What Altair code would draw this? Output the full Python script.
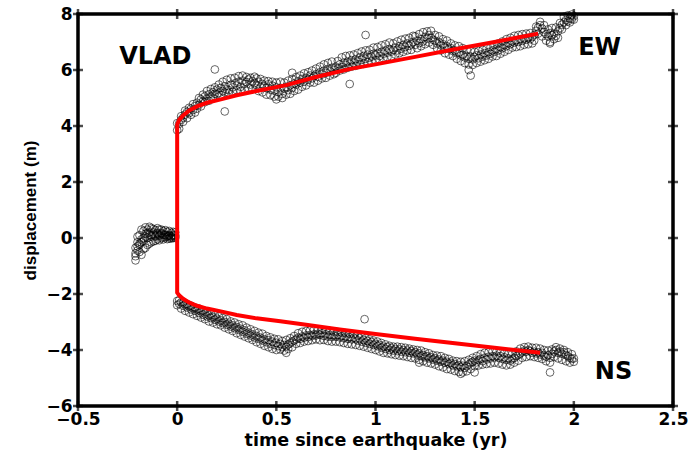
import altair as alt
import pandas as pd

# ---------------- data ----------------
pre_t = [-0.21, -0.20, -0.19, -0.18, -0.17, -0.16, -0.15, -0.14, -0.13, -0.12, -0.11,
         -0.10, -0.09, -0.08, -0.07, -0.06, -0.05, -0.04, -0.03, -0.02, -0.01]
pre_ew = [-0.55, -0.30, 0.10, -0.15, 0.25, 0.05, 0.30, 0.12, 0.35, 0.20, 0.28,
          0.15, 0.30, 0.18, 0.25, 0.10, 0.22, 0.08, 0.18, 0.12, 0.20]
pre_ns = [-0.80, -0.45, -0.25, -0.60, -0.10, -0.35, 0.00, -0.20, 0.05, -0.12, 0.08,
          -0.05, 0.10, 0.00, 0.12, 0.02, 0.08, -0.02, 0.06, 0.00, 0.05]
pre_ew_b = [-0.35, 0.05, -0.20, 0.30, 0.00, 0.38, 0.18, 0.40, 0.10, 0.32, 0.05,
            0.35, 0.08, 0.30, 0.02, 0.28, 0.05, 0.25, 0.02, 0.22, 0.10]
pre_ns_b = [-0.65, -0.15, -0.50, -0.05, -0.40, 0.15, -0.25, 0.20, -0.15, 0.12, -0.10,
            0.18, -0.08, 0.15, -0.05, 0.12, -0.04, 0.10, -0.02, 0.08, 0.00]

post_t = [
    0.00, 0.01, 0.02, 0.03, 0.04, 0.05, 0.06, 0.07, 0.08, 0.09,
    0.10, 0.11, 0.12, 0.13, 0.14, 0.15, 0.16, 0.17, 0.18, 0.19,
    0.20, 0.21, 0.22, 0.23, 0.24, 0.25, 0.26, 0.27, 0.28, 0.29,
    0.30, 0.31, 0.32, 0.33, 0.34, 0.35, 0.36, 0.37, 0.38, 0.39,
    0.40, 0.41, 0.42, 0.43, 0.44, 0.45, 0.46, 0.47, 0.48, 0.49,
    0.50, 0.51, 0.52, 0.53, 0.54, 0.55, 0.56, 0.57, 0.58, 0.59,
    0.60, 0.61, 0.62, 0.63, 0.64, 0.65, 0.66, 0.67, 0.68, 0.69,
    0.70, 0.71, 0.72, 0.73, 0.74, 0.75, 0.76, 0.77, 0.78, 0.79,
    0.80, 0.81, 0.82, 0.83, 0.84, 0.85, 0.86, 0.87, 0.88, 0.89,
    0.90, 0.91, 0.92, 0.93, 0.94, 0.95, 0.96, 0.97, 0.98, 0.99,
    1.00, 1.01, 1.02, 1.03, 1.04, 1.05, 1.06, 1.07, 1.08, 1.09,
    1.10, 1.11, 1.12, 1.13, 1.14, 1.15, 1.16, 1.17, 1.18, 1.19,
    1.20, 1.21, 1.22, 1.23, 1.24, 1.25, 1.26, 1.27, 1.28, 1.29,
    1.30, 1.31, 1.32, 1.33, 1.34, 1.35, 1.36, 1.37, 1.38, 1.39,
    1.40, 1.41, 1.42, 1.43, 1.44, 1.45, 1.46, 1.47, 1.48, 1.49,
    1.50, 1.51, 1.52, 1.53, 1.54, 1.55, 1.56, 1.57, 1.58, 1.59,
    1.60, 1.61, 1.62, 1.63, 1.64, 1.65, 1.66, 1.67, 1.68, 1.69,
    1.70, 1.71, 1.72, 1.73, 1.74, 1.75, 1.76, 1.77, 1.78, 1.79,
    1.80, 1.81, 1.82, 1.83, 1.84, 1.85, 1.86, 1.87, 1.88, 1.89,
    1.90, 1.91, 1.92, 1.93, 1.94, 1.95, 1.96, 1.97, 1.98, 1.99,
    2.00]

post_ew = [
    3.85, 4.08, 4.22, 4.30, 4.41, 4.50, 4.46, 4.62, 4.57, 4.71,
    4.83, 4.76, 4.95, 4.88, 5.06, 4.97, 5.13, 5.04, 5.21, 5.15,
    5.30, 5.18, 5.36, 5.25, 5.42, 5.31, 5.28, 5.47, 5.38, 5.52,
    5.44, 5.58, 5.40, 5.62, 5.50, 5.57, 5.66, 5.48, 5.60, 5.53,
    5.45, 5.58, 5.38, 5.50, 5.42, 5.35, 5.49, 5.30, 5.44, 5.26,
    5.38, 5.22, 5.35, 5.15, 5.33, 5.40, 5.28, 5.45, 5.36, 5.52,
    5.48, 5.60, 5.55, 5.68, 5.58, 5.72, 5.65, 5.80, 5.70, 5.78,
    5.85, 5.76, 5.92, 5.84, 5.98, 5.90, 6.04, 5.95, 6.08, 6.00,
    6.12, 6.05, 6.20, 6.10, 6.26, 6.18, 6.30, 6.22, 6.35, 6.25,
    6.38, 6.30, 6.45, 6.36, 6.50, 6.40, 6.55, 6.44, 6.48, 6.58,
    6.52, 6.60, 6.50, 6.65, 6.58, 6.70, 6.62, 6.75, 6.66, 6.72,
    6.80, 6.70, 6.85, 6.76, 6.90, 6.82, 6.95, 6.86, 6.92, 7.00,
    6.90, 7.05, 6.96, 7.10, 7.02, 7.18, 7.12, 7.25, 7.15, 7.08,
    7.05, 6.95, 7.00, 6.88, 6.92, 6.80, 6.85, 6.75, 6.78, 6.68,
    6.70, 6.60, 6.62, 6.52, 6.55, 6.45, 6.50, 6.40, 6.48, 6.38,
    6.46, 6.52, 6.42, 6.55, 6.48, 6.60, 6.52, 6.64, 6.58, 6.70,
    6.65, 6.76, 6.70, 6.82, 6.78, 6.90, 6.85, 6.96, 6.92, 7.02,
    6.98, 7.06, 7.00, 7.10, 7.04, 7.12, 7.08, 7.15, 7.10, 7.18,
    7.25, 7.40, 7.52, 7.60, 7.48, 7.35, 7.28, 7.20, 7.32, 7.24,
    7.30, 7.22, 7.38, 7.50, 7.62, 7.70, 7.78, 7.74, 7.85, 7.82,
    7.92]

post_ew_b = [
    4.10, 3.90, 4.35, 4.15, 4.55, 4.28, 4.65, 4.40, 4.78, 4.48,
    4.62, 5.00, 4.70, 5.12, 4.85, 5.25, 4.90, 5.32, 5.00, 5.38,
    5.12, 5.48, 5.10, 5.58, 5.20, 5.65, 5.18, 5.70, 5.22, 5.72,
    5.28, 5.78, 5.25, 5.80, 5.30, 5.75, 5.35, 5.72, 5.32, 5.76,
    5.70, 5.25, 5.68, 5.20, 5.62, 5.12, 5.60, 5.10, 5.58, 5.05,
    5.55, 5.05, 5.58, 5.00, 5.55, 5.12, 5.62, 5.15, 5.68, 5.25,
    5.75, 5.30, 5.80, 5.40, 5.88, 5.45, 5.92, 5.55, 5.98, 5.55,
    6.05, 5.62, 6.12, 5.70, 6.20, 5.72, 6.25, 5.80, 6.30, 5.85,
    5.90, 6.32, 5.98, 6.45, 6.02, 6.50, 6.08, 6.52, 6.12, 6.55,
    6.15, 6.60, 6.20, 6.66, 6.22, 6.70, 6.28, 6.72, 6.30, 6.80,
    6.35, 6.82, 6.38, 6.88, 6.42, 6.92, 6.45, 6.98, 6.48, 6.95,
    6.55, 7.02, 6.60, 7.08, 6.65, 7.12, 6.70, 7.15, 6.72, 7.22,
    7.20, 6.78, 7.28, 6.85, 7.35, 6.92, 7.38, 6.98, 7.40, 6.90,
    7.25, 6.78, 7.20, 6.70, 7.10, 6.60, 7.05, 6.55, 6.95, 6.50,
    6.88, 6.40, 6.85, 6.32, 6.78, 6.25, 6.72, 6.20, 6.70, 6.18,
    6.65, 6.25, 6.68, 6.30, 6.72, 6.35, 6.78, 6.40, 6.82, 6.48,
    6.90, 6.50, 6.95, 6.58, 7.02, 6.65, 7.10, 6.72, 7.15, 6.80,
    7.22, 6.82, 7.25, 6.85, 7.28, 6.90, 7.30, 6.92, 7.32, 6.95,
    7.05, 7.55, 7.30, 7.72, 7.20, 7.60, 7.05, 7.45, 7.00, 7.50,
    7.10, 7.52, 7.15, 7.68, 7.45, 7.90, 7.60, 7.95, 7.70, 7.98,
    7.80]

post_ns = [
    -2.25, -2.35, -2.30, -2.42, -2.38, -2.48, -2.44, -2.55, -2.50, -2.60,
    -2.56, -2.68, -2.62, -2.74, -2.70, -2.80, -2.76, -2.86, -2.82, -2.92,
    -2.88, -2.98, -2.94, -3.04, -3.00, -3.10, -3.06, -3.16, -3.12, -3.22,
    -3.18, -3.28, -3.24, -3.35, -3.30, -3.42, -3.38, -3.48, -3.44, -3.55,
    -3.50, -3.60, -3.56, -3.66, -3.62, -3.72, -3.65, -3.78, -3.70, -3.82,
    -3.74, -3.86, -3.78, -3.90, -3.82, -3.88, -3.80, -3.76, -3.70, -3.66,
    -3.62, -3.56, -3.60, -3.52, -3.56, -3.48, -3.54, -3.46, -3.50, -3.44,
    -3.48, -3.42, -3.46, -3.40, -3.50, -3.44, -3.52, -3.46, -3.54, -3.48,
    -3.52, -3.46, -3.55, -3.50, -3.58, -3.52, -3.60, -3.54, -3.62, -3.56,
    -3.60, -3.66, -3.58, -3.70, -3.64, -3.74, -3.68, -3.78, -3.72, -3.82,
    -3.78, -3.86, -3.82, -3.92, -3.88, -3.96, -3.90, -4.00, -3.94, -4.02,
    -3.96, -4.04, -3.98, -4.06, -4.00, -4.08, -4.02, -4.10, -4.04, -4.12,
    -4.08, -4.16, -4.12, -4.22, -4.18, -4.26, -4.22, -4.30, -4.26, -4.34,
    -4.30, -4.38, -4.34, -4.42, -4.38, -4.46, -4.42, -4.50, -4.46, -4.55,
    -4.50, -4.58, -4.54, -4.62, -4.56, -4.64, -4.58, -4.52, -4.46, -4.42,
    -4.38, -4.44, -4.36, -4.32, -4.40, -4.28, -4.34, -4.24, -4.30, -4.22,
    -4.26, -4.20, -4.28, -4.22, -4.32, -4.26, -4.36, -4.30, -4.38, -4.32,
    -4.28, -4.22, -4.18, -4.12, -4.08, -4.02, -4.06, -4.00, -4.04, -4.10,
    -4.06, -4.12, -4.08, -4.16, -4.10, -4.20, -4.24, -4.18, -4.28, -4.14,
    -4.05, -4.00, -4.10, -4.06, -4.14, -4.08, -4.18, -4.22, -4.28, -4.32,
    -4.30]

post_ns_b = [
    -2.40, -2.22, -2.52, -2.30, -2.60, -2.36, -2.66, -2.42, -2.72, -2.48,
    -2.78, -2.52, -2.84, -2.58, -2.90, -2.62, -2.98, -2.70, -3.02, -2.76,
    -3.08, -2.80, -3.12, -2.86, -3.20, -2.90, -3.26, -2.98, -3.32, -3.02,
    -3.40, -3.08, -3.46, -3.12, -3.52, -3.20, -3.58, -3.26, -3.64, -3.32,
    -3.72, -3.38, -3.78, -3.42, -3.85, -3.50, -3.90, -3.55, -3.96, -3.60,
    -4.00, -3.62, -3.98, -3.68, -4.02, -3.64, -3.96, -3.58, -3.90, -3.50,
    -3.78, -3.40, -3.75, -3.35, -3.70, -3.32, -3.68, -3.30, -3.65, -3.28,
    -3.62, -3.30, -3.65, -3.28, -3.64, -3.30, -3.68, -3.32, -3.70, -3.34,
    -3.70, -3.36, -3.72, -3.38, -3.75, -3.40, -3.78, -3.42, -3.80, -3.44,
    -3.82, -3.48, -3.85, -3.52, -3.88, -3.58, -3.92, -3.62, -3.96, -3.66,
    -4.00, -3.70, -4.05, -3.75, -4.10, -3.80, -4.12, -3.85, -4.15, -3.88,
    -4.18, -3.88, -4.20, -3.90, -4.22, -3.92, -4.25, -3.95, -4.28, -3.98,
    -4.30, -4.00, -4.35, -4.02, -4.40, -4.08, -4.45, -4.12, -4.48, -4.18,
    -4.52, -4.20, -4.58, -4.22, -4.62, -4.28, -4.68, -4.32, -4.70, -4.38,
    -4.75, -4.40, -4.78, -4.42, -4.80, -4.40, -4.76, -4.35, -4.68, -4.28,
    -4.58, -4.22, -4.55, -4.15, -4.52, -4.10, -4.50, -4.08, -4.48, -4.05,
    -4.45, -4.06, -4.48, -4.10, -4.52, -4.12, -4.55, -4.15, -4.52, -4.12,
    -4.45, -4.05, -4.38, -3.95, -4.28, -3.90, -4.25, -3.88, -4.22, -3.92,
    -4.25, -3.92, -4.28, -3.95, -4.32, -4.00, -4.40, -4.02, -4.45, -3.98,
    -4.25, -3.90, -4.30, -3.95, -4.35, -4.00, -4.40, -4.08, -4.45, -4.15,
    -4.42]

# scattered outlying observations
out_t = [0.19, 0.24, 0.50, 0.58, 0.87, 0.95, 1.47, 1.48, 1.88,
         0.55, 0.945, 1.43, 1.50, 1.88, 1.22]
out_v = [6.02, 4.52, 4.95, 5.90, 5.50, 7.25, 6.00, 5.80, 6.95,
         -4.10, -2.90, -4.85, -4.80, -4.80, -4.45]

# red model curves (NS branch, then EW branch)
fit_ns_t = [1.83, 1.60, 1.40, 1.20, 1.00, 0.82, 0.65, 0.52, 0.40, 0.30, 0.22, 0.15,
            0.10, 0.06, 0.03, 0.01, 0.00]
fit_ns_v = [-4.10, -3.92, -3.76, -3.60, -3.43, -3.27, -3.10, -2.97, -2.87, -2.75,
            -2.62, -2.52, -2.42, -2.30, -2.17, -2.05, -1.95]
fit_ew_t = [0.00, 0.01, 0.03, 0.06, 0.10, 0.15, 0.22, 0.30, 0.40, 0.55, 0.70, 0.88,
            1.00, 1.20, 1.40, 1.60, 1.82]
fit_ew_v = [4.05, 4.22, 4.38, 4.55, 4.70, 4.83, 4.95, 5.10, 5.25, 5.46, 5.75, 6.05,
            6.20, 6.47, 6.74, 7.00, 7.30]

label_text = ["VLAD", "EW", "NS"]
label_t = [-0.11, 2.13, 2.20]
label_v = [6.46, 6.78, -4.78]

x_ticks = [-0.5, 0, 0.5, 1, 1.5, 2, 2.5]
y_ticks = [-6, -4, -2, 0, 2, 4, 6, 8]

# ---------------- tables ----------------
pts = pd.concat([
    pd.DataFrame({"t": pre_t, "v": pre_ew}),
    pd.DataFrame({"t": pre_t, "v": pre_ns}),
    pd.DataFrame({"t": pre_t, "v": pre_ew_b}),
    pd.DataFrame({"t": pre_t, "v": pre_ns_b}),
    pd.DataFrame({"t": post_t, "v": post_ew}),
    pd.DataFrame({"t": post_t, "v": post_ew_b}),
    pd.DataFrame({"t": post_t, "v": post_ns}),
    pd.DataFrame({"t": post_t, "v": post_ns_b}),
    pd.DataFrame({"t": out_t, "v": out_v}),
], ignore_index=True)

fit_t = fit_ns_t + fit_ew_t
fit_v = fit_ns_v + fit_ew_v
fit = pd.DataFrame({"t": fit_t, "v": fit_v, "o": list(range(len(fit_t)))})
labels = pd.DataFrame({"txt": label_text, "t": label_t, "v": label_v})
xt = pd.DataFrame({"t": x_ticks})
yt = pd.DataFrame({"v": y_ticks})

W, H = 595, 392
FONT = "DejaVu Sans"

xs = alt.Scale(domain=[-0.5, 2.5], nice=False, zero=False)
ys = alt.Scale(domain=[-6, 8], nice=False, zero=False)

xaxis = alt.Axis(values=x_ticks, format="~g", title="time since earthquake (yr)",
                 domain=False, ticks=False, grid=False, labelFontSize=17,
                 labelFontWeight="bold", labelFont=FONT, labelColor="black",
                 labelPadding=5, titleFontSize=17.5, titleFont=FONT,
                 titleFontWeight="bold", titleColor="black", titlePadding=4,
                 labelFlush=False, labelOverlap=False)
yaxis = alt.Axis(values=y_ticks, format="~g", title="displacement (m)",
                 domain=False, ticks=False, grid=False, labelFontSize=17,
                 labelFontWeight="bold", labelFont=FONT, labelColor="black",
                 labelPadding=6, titleFontSize=17, titleFont="Liberation Sans",
                 titleFontWeight="bold", titleColor="black", titlePadding=6,
                 labelFlush=False, labelOverlap=False)

scatter = alt.Chart(pts).mark_point(
    shape="circle", filled=False, size=60, stroke="black",
    strokeWidth=0.8, opacity=0.75
).encode(
    x=alt.X("t:Q", scale=xs, axis=xaxis),
    y=alt.Y("v:Q", scale=ys, axis=yaxis),
)

fitline = alt.Chart(fit).mark_line(color="#ff0000", strokeWidth=4).encode(
    x=alt.X("t:Q", scale=xs),
    y=alt.Y("v:Q", scale=ys),
    order="o:Q",
)

txt = alt.Chart(labels).mark_text(
    font=FONT, fontSize=24, fontWeight="bold", color="black",
    align="center", baseline="middle"
).encode(
    x=alt.X("t:Q", scale=xs),
    y=alt.Y("v:Q", scale=ys),
    text="txt:N",
)

xtick_b = alt.Chart(xt).mark_tick(color="black", size=10, thickness=2.5).encode(
    x=alt.X("t:Q", scale=xs), y=alt.value(H))
xtick_t = alt.Chart(xt).mark_tick(color="black", size=10, thickness=2.5).encode(
    x=alt.X("t:Q", scale=xs), y=alt.value(0))
ytick_l = alt.Chart(yt).mark_tick(color="black", size=10, thickness=2.5).encode(
    y=alt.Y("v:Q", scale=ys), x=alt.value(0))
ytick_r = alt.Chart(yt).mark_tick(color="black", size=10, thickness=2.5).encode(
    y=alt.Y("v:Q", scale=ys), x=alt.value(W))

chart = alt.layer(
    scatter, fitline, txt, xtick_b, xtick_t, ytick_l, ytick_r
).properties(
    width=W, height=H,
    autosize=alt.AutoSizeParams(type="none"),
    padding={"left": 78, "top": 14, "right": 19, "bottom": 53},
    background="white",
).configure_view(
    stroke="black", strokeWidth=3.5
)

chart.save("out.html", embed_options={"renderer": "svg", "actions": False})
